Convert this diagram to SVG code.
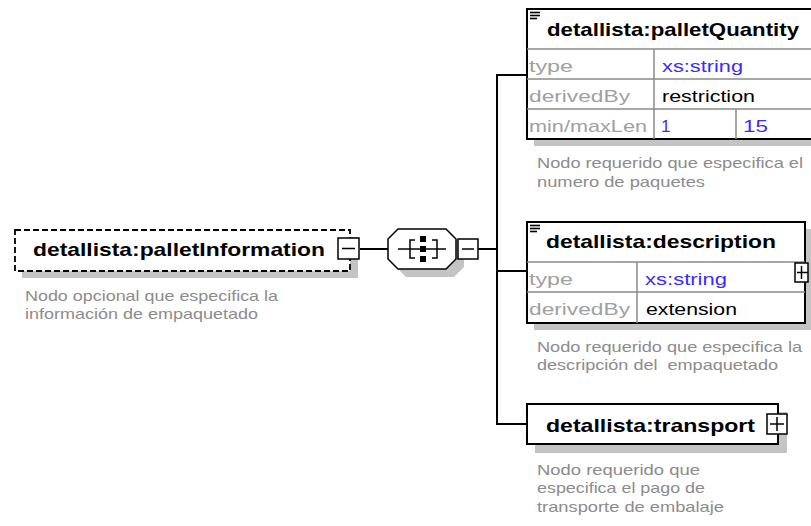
<svg xmlns="http://www.w3.org/2000/svg" width="811" height="526" viewBox="0 0 811 526">
<style>
.shadow{fill:#c4c4c4;stroke:none}
.box{fill:#fff;stroke:#000;stroke-width:2}
.row{stroke:#8a8a8a;stroke-width:1.5;fill:none}
.title{font-family:"Liberation Sans",Arial,sans-serif;font-weight:bold;font-size:19px;fill:#000}
.lbl{font-family:"Liberation Sans",Arial,sans-serif;font-size:17px;fill:#a0a0a0}
.val{font-family:"Liberation Sans",Arial,sans-serif;font-size:17px;fill:#000}
.typ{font-family:"Liberation Sans",Arial,sans-serif;font-size:17px;fill:#3a2cff}
.ann{font-family:"Liberation Sans",Arial,sans-serif;font-size:14.5px;fill:#8c8c8c;white-space:pre}
.btn{fill:#fff;stroke:#000;stroke-width:1.5}
.ln{stroke:#000;stroke-width:2;fill:none}
.doc{stroke:#000;stroke-width:1.6}
</style>
<g id="connectors">
<line class="ln" x1="360" y1="249" x2="388" y2="249"/>
<line class="ln" x1="478" y1="249" x2="497" y2="249"/>
<polyline class="ln" points="527,75 497,75 497,424 527,424"/>
<line class="ln" x1="497" y1="271" x2="527" y2="271"/>
</g>
<g id="palletInformation">
<rect class="shadow" x="22" y="237" width="336" height="41"/>
<rect x="15" y="230" width="335" height="41" fill="#fff" stroke="#000" stroke-width="1.8" stroke-dasharray="6,3"/>
<text class="title" x="33" y="256" textLength="292" lengthAdjust="spacingAndGlyphs">detallista:palletInformation</text>
<rect class="btn" x="338" y="238" width="21" height="21"/>
<line x1="342" y1="248.5" x2="355" y2="248.5" stroke="#000" stroke-width="1.5"/>
<text class="ann" x="25" y="301" textLength="253" lengthAdjust="spacingAndGlyphs">Nodo opcional que especifica la</text>
<text class="ann" x="25" y="319" textLength="233" lengthAdjust="spacingAndGlyphs">información de empaquetado</text>
</g>
<g id="sequence">
<polygon class="shadow" points="406,237 454,237 464,247 464,267 454,277 406,277 396,267 396,247"/>
<polygon fill="#fff" stroke="#000" stroke-width="1.5" points="398,229 446,229 456,239 456,259 446,269 398,269 388,259 388,239"/>
<line x1="398" y1="249" x2="446" y2="249" stroke="#000" stroke-width="1.5"/>
<polyline fill="none" stroke="#000" stroke-width="1.5" points="415,240 410,240 410,258 415,258"/>
<polyline fill="none" stroke="#000" stroke-width="1.5" points="432,240 437,240 437,258 432,258"/>
<rect x="420" y="236" width="6" height="6" fill="#000"/>
<rect x="420" y="246" width="6" height="6" fill="#000"/>
<rect x="420" y="256" width="6" height="6" fill="#000"/>
<rect class="btn" x="458" y="239" width="20" height="20"/>
<line x1="462" y1="249" x2="474" y2="249" stroke="#000" stroke-width="1.5"/>
</g>
<g id="palletQuantity">
<rect class="shadow" x="534" y="16" width="290" height="130"/>
<rect class="box" x="527" y="9" width="300" height="130"/>
<line class="row" x1="527" y1="49" x2="827" y2="49"/>
<line class="row" x1="527" y1="79" x2="827" y2="79"/>
<line class="row" x1="527" y1="109" x2="827" y2="109"/>
<line class="row" x1="654" y1="49" x2="654" y2="139"/>
<line class="row" x1="736" y1="109" x2="736" y2="139"/>
<g class="doc"><line x1="530" y1="12.5" x2="540" y2="12.5"/><line x1="530" y1="15.5" x2="540" y2="15.5"/><line x1="530" y1="18.5" x2="537" y2="18.5"/></g>
<text class="title" x="547" y="36" textLength="252" lengthAdjust="spacingAndGlyphs">detallista:palletQuantity</text>
<text class="lbl" x="529" y="72" textLength="44" lengthAdjust="spacingAndGlyphs">type</text>
<text class="typ" x="662" y="72" textLength="81" lengthAdjust="spacingAndGlyphs">xs:string</text>
<text class="lbl" x="529" y="102" textLength="101" lengthAdjust="spacingAndGlyphs">derivedBy</text>
<text class="val" x="662" y="102" textLength="93" lengthAdjust="spacingAndGlyphs">restriction</text>
<text class="lbl" x="529" y="132" textLength="118" lengthAdjust="spacingAndGlyphs">min/maxLen</text>
<text class="typ" x="661" y="132">1</text>
<text class="typ" x="743" y="132" textLength="25" lengthAdjust="spacingAndGlyphs">15</text>
<text class="ann" x="537" y="168" textLength="266" lengthAdjust="spacingAndGlyphs">Nodo requerido que especifica el</text>
<text class="ann" x="537" y="187" textLength="168" lengthAdjust="spacingAndGlyphs">numero de paquetes</text>
</g>
<g id="description">
<rect class="shadow" x="534" y="229" width="278" height="101"/>
<rect class="box" x="527" y="222" width="278" height="101"/>
<line class="row" x1="527" y1="262" x2="805" y2="262"/>
<line class="row" x1="527" y1="292" x2="805" y2="292"/>
<line class="row" x1="637" y1="262" x2="637" y2="323"/>
<g class="doc"><line x1="530" y1="225.5" x2="540" y2="225.5"/><line x1="530" y1="228.5" x2="540" y2="228.5"/><line x1="530" y1="231.5" x2="537" y2="231.5"/></g>
<text class="title" x="546" y="248" textLength="230" lengthAdjust="spacingAndGlyphs">detallista:description</text>
<text class="lbl" x="529" y="285" textLength="44" lengthAdjust="spacingAndGlyphs">type</text>
<text class="typ" x="645" y="285" textLength="82" lengthAdjust="spacingAndGlyphs">xs:string</text>
<text class="lbl" x="529" y="315" textLength="101" lengthAdjust="spacingAndGlyphs">derivedBy</text>
<text class="val" x="646" y="315" textLength="91" lengthAdjust="spacingAndGlyphs">extension</text>
<rect class="btn" x="795" y="263" width="13" height="19"/>
<line x1="797" y1="272.5" x2="808" y2="272.5" stroke="#000" stroke-width="1.5"/>
<line x1="801.5" y1="266" x2="801.5" y2="279" stroke="#000" stroke-width="1.5"/>
<text class="ann" x="537" y="352" textLength="265" lengthAdjust="spacingAndGlyphs">Nodo requerido que especifica la</text>
<text class="ann" x="537" y="370" textLength="241" lengthAdjust="spacingAndGlyphs" xml:space="preserve">descripción del  empaquetado</text>
</g>
<g id="transport">
<rect class="shadow" x="535" y="412" width="252" height="41"/>
<rect class="box" x="527" y="404" width="251" height="40"/>
<text class="title" x="546" y="432" textLength="209" lengthAdjust="spacingAndGlyphs">detallista:transport</text>
<rect class="btn" x="767" y="414" width="20" height="20"/>
<line x1="770" y1="424" x2="784" y2="424" stroke="#000" stroke-width="1.5"/>
<line x1="777" y1="417" x2="777" y2="431" stroke="#000" stroke-width="1.5"/>
<text class="ann" x="537" y="475" textLength="163" lengthAdjust="spacingAndGlyphs">Nodo requerido que</text>
<text class="ann" x="537" y="493" textLength="168" lengthAdjust="spacingAndGlyphs">especifica el pago de</text>
<text class="ann" x="537" y="512" textLength="187" lengthAdjust="spacingAndGlyphs">transporte de embalaje</text>
</g>
</svg>
